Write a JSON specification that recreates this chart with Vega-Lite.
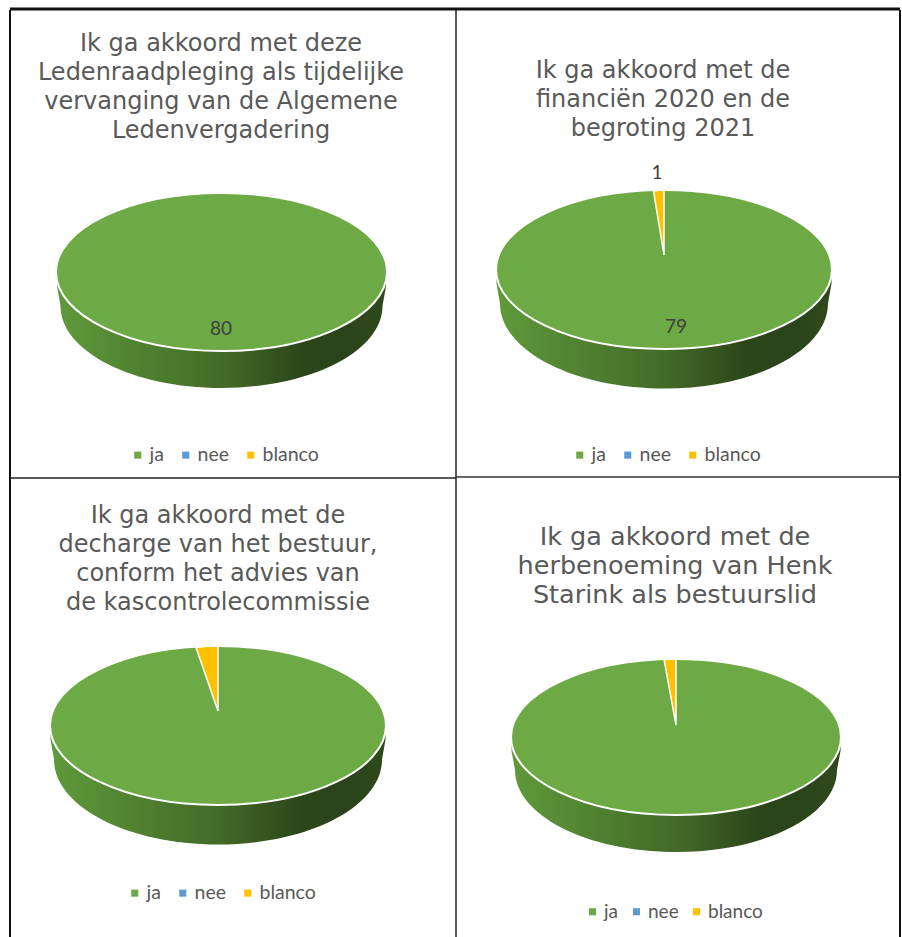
{"$schema":"https://vega.github.io/schema/vega-lite/v6.json","padding":{"left":8,"top":7,"right":0,"bottom":0},"background":"white","columns":2,"spacing":0,"bounds":"flush","resolve":{"scale":{"color":"independent"},"legend":{"color":"independent"}},"config":{"view":{"stroke":null},"title":{"font":"DejaVu Sans","fontSize":24,"fontWeight":"normal","color":"#595959","lineHeight":29,"anchor":"middle","baseline":"top"},"legend":{"orient":"none","direction":"horizontal","title":null,"symbolType":"square","symbolSize":50,"symbolStrokeWidth":0,"labelFont":"Lato","labelFontSize":19.5,"labelColor":"#595959","labelOffset":2,"columnPadding":12}},"concat":[
{"width":446,"height":468,"title":{"text":["Ik ga akkoord met deze","Ledenraadpleging als tijdelijke","vervanging van de Algemene","Ledenvergadering"],"dx":-12,"offset":-135},"data":{"values":[{"vraag":"Ledenraadpleging","antwoord":"ja","aantal":80},{"vraag":"Ledenraadpleging","antwoord":"nee","aantal":0},{"vraag":"Ledenraadpleging","antwoord":"blanco","aantal":0}]},"layer":[
{"transform":[{"filter":"datum.antwoord==='ja'"}],"mark":{"type":"rule","color":"#111","strokeWidth":2},"encoding":{"x":{"value":0},"y":{"value":0},"y2":{"value":468}}},
{"transform":[{"filter":"datum.antwoord==='ja'"}],"mark":{"type":"rule","color":"#111","strokeWidth":3},"encoding":{"y":{"value":-1},"x":{"value":0},"x2":{"value":446}}},
{"transform":[{"filter":"datum.antwoord==='ja'"}],"mark":{"type":"rule","color":"#222","strokeWidth":1.5},"encoding":{"y":{"value":468},"x":{"value":0},"x2":{"value":446}}},
{"transform":[{"filter":"datum.antwoord==='ja'"}],"mark":{"type":"point","filled":true,"opacity":1,"size":4,"xOffset":-11.5,"yOffset":28,"shape":"M-165,0 L-164.5,14 L-161,34 A161,82 0 0 0 161,34 L164.5,14 L165,0 Z","fill":{"gradient":"linear","x1":0,"x2":1,"y1":0,"y2":0,"stops":[{"offset":0,"color":"#5f9a3b"},{"offset":0.3,"color":"#4d7d2e"},{"offset":0.5,"color":"#436b28"},{"offset":0.75,"color":"#2c4519"},{"offset":0.88,"color":"#2b431a"},{"offset":1,"color":"#2f4a1c"}]}},"encoding":{}},
{"transform":[{"filter":"datum.antwoord==='ja'"}],"mark":{"type":"point","filled":true,"opacity":1,"size":4,"xOffset":-11.5,"yOffset":28,"shape":"M-165.5,0 A165.5,79 0 1 1 165.5,0 A165.5,79 0 1 1 -165.5,0 Z","stroke":"white","strokeWidth":2},"encoding":{"color":{"field":"antwoord","type":"nominal","scale":{"domain":["ja","nee","blanco"],"range":["#6DA945","#5B9BD5","#FFC000"]},"legend":{"symbolType":"square","legendX":118,"legendY":435}}}},
{"transform":[{"filter":"datum.antwoord==='ja'"}],"mark":{"type":"text","font":"Lato","fontSize":19,"color":"#404040","xOffset":-12,"yOffset":85},"encoding":{"text":{"field":"aantal","type":"quantitative"}}}
]},
{"width":444,"height":468,"title":{"text":["Ik ga akkoord met de","financiën 2020 en de","begroting 2021"],"dx":-15,"offset":-133},"data":{"values":[{"vraag":"Financiën","antwoord":"ja","aantal":79},{"vraag":"Financiën","antwoord":"nee","aantal":0},{"vraag":"Financiën","antwoord":"blanco","aantal":1}]},"layer":[
{"transform":[{"filter":"datum.antwoord==='ja'"}],"mark":{"type":"rule","color":"#222","strokeWidth":1.5},"encoding":{"x":{"value":0},"y":{"value":0},"y2":{"value":468}}},
{"transform":[{"filter":"datum.antwoord==='ja'"}],"mark":{"type":"rule","color":"#111","strokeWidth":3},"encoding":{"y":{"value":-1},"x":{"value":0},"x2":{"value":444}}},
{"transform":[{"filter":"datum.antwoord==='ja'"}],"mark":{"type":"rule","color":"#111","strokeWidth":2},"encoding":{"x":{"value":444},"y":{"value":0},"y2":{"value":468}}},
{"transform":[{"filter":"datum.antwoord==='ja'"}],"mark":{"type":"rule","color":"#333","strokeWidth":1.5},"encoding":{"y":{"value":467},"x":{"value":0},"x2":{"value":444}}},
{"transform":[{"filter":"datum.antwoord==='ja'"}],"mark":{"type":"point","filled":true,"opacity":1,"size":4,"xOffset":-14,"yOffset":25.5,"shape":"M-168,0 L-167.5,14 L-164,34 A164,85 0 0 0 164,34 L167.5,14 L168,0 Z","fill":{"gradient":"linear","x1":0,"x2":1,"y1":0,"y2":0,"stops":[{"offset":0,"color":"#5f9a3b"},{"offset":0.3,"color":"#4d7d2e"},{"offset":0.5,"color":"#436b28"},{"offset":0.75,"color":"#2c4519"},{"offset":0.88,"color":"#2b431a"},{"offset":1,"color":"#2f4a1c"}]}},"encoding":{}},
{"transform":[{"filter":"datum.antwoord==='ja'"}],"mark":{"type":"point","filled":true,"opacity":1,"size":4,"xOffset":-14,"yOffset":25.5,"shape":"M-168,0 A168,79.5 0 1 1 168,0 A168,79.5 0 1 1 -168,0 Z","stroke":"white","strokeWidth":2},"encoding":{"color":{"field":"antwoord","type":"nominal","scale":{"domain":["ja","nee","blanco"],"range":["#6DA945","#5B9BD5","#FFC000"]},"legend":{"symbolType":"square","legendX":114,"legendY":435}}}},
{"transform":[{"filter":"datum.antwoord==='blanco'"}],"mark":{"type":"point","filled":true,"opacity":1,"size":4,"xOffset":-14,"yOffset":25.5,"shape":"M0,-14.5 L-10.5,-78.5 Q-5,-79.5 0,-79.5 Z","stroke":"white","strokeWidth":1.5},"encoding":{"color":{"field":"antwoord","type":"nominal","scale":{"domain":["ja","nee","blanco"],"range":["#6DA945","#5B9BD5","#FFC000"]},"legend":{"symbolType":"square","legendX":114,"legendY":435}}}},
{"transform":[{"filter":"datum.antwoord==='ja'"}],"mark":{"type":"text","font":"Lato","fontSize":19,"color":"#404040","xOffset":-2,"yOffset":83},"encoding":{"text":{"field":"aantal","type":"quantitative"}}},
{"transform":[{"filter":"datum.antwoord==='blanco'"}],"mark":{"type":"text","font":"Lato","fontSize":19,"color":"#404040","xOffset":-21,"yOffset":-71},"encoding":{"text":{"field":"aantal","type":"quantitative"}}}
]},
{"width":446,"height":459,"title":{"text":["Ik ga akkoord met de","decharge van het bestuur,","conform het advies van","de kascontrolecommissie"],"dx":-15,"offset":-138},"data":{"values":[{"vraag":"Decharge","antwoord":"ja","aantal":78},{"vraag":"Decharge","antwoord":"nee","aantal":0},{"vraag":"Decharge","antwoord":"blanco","aantal":2}]},"layer":[
{"transform":[{"filter":"datum.antwoord==='ja'"}],"mark":{"type":"rule","color":"#111","strokeWidth":2},"encoding":{"x":{"value":0},"y":{"value":0},"y2":{"value":459}}},
{"transform":[{"filter":"datum.antwoord==='ja'"}],"mark":{"type":"point","filled":true,"opacity":1,"size":4,"xOffset":-15,"yOffset":18,"shape":"M-168,0 L-167.5,14 L-164,34 A164,85 0 0 0 164,34 L167.5,14 L168,0 Z","fill":{"gradient":"linear","x1":0,"x2":1,"y1":0,"y2":0,"stops":[{"offset":0,"color":"#5f9a3b"},{"offset":0.3,"color":"#4d7d2e"},{"offset":0.5,"color":"#436b28"},{"offset":0.75,"color":"#2c4519"},{"offset":0.88,"color":"#2b431a"},{"offset":1,"color":"#2f4a1c"}]}},"encoding":{}},
{"transform":[{"filter":"datum.antwoord==='ja'"}],"mark":{"type":"point","filled":true,"opacity":1,"size":4,"xOffset":-15,"yOffset":18,"shape":"M-168,0 A168,79.5 0 1 1 168,0 A168,79.5 0 1 1 -168,0 Z","stroke":"white","strokeWidth":2},"encoding":{"color":{"field":"antwoord","type":"nominal","scale":{"domain":["ja","nee","blanco"],"range":["#6DA945","#5B9BD5","#FFC000"]},"legend":{"symbolType":"square","legendX":115,"legendY":405}}}},
{"transform":[{"filter":"datum.antwoord==='blanco'"}],"mark":{"type":"point","filled":true,"opacity":1,"size":4,"xOffset":-15,"yOffset":18,"shape":"M0,-14.5 L-22,-78 Q-11,-79.5 0,-79.5 Z","stroke":"white","strokeWidth":1.5},"encoding":{"color":{"field":"antwoord","type":"nominal","scale":{"domain":["ja","nee","blanco"],"range":["#6DA945","#5B9BD5","#FFC000"]},"legend":{"symbolType":"square","legendX":115,"legendY":405}}}}
]},
{"width":444,"height":459,"title":{"text":["Ik ga akkoord met de","herbenoeming van Henk","Starink als bestuurslid"],"fontSize":25.5,"dx":-3,"offset":-131},"data":{"values":[{"vraag":"Herbenoeming","antwoord":"ja","aantal":79},{"vraag":"Herbenoeming","antwoord":"nee","aantal":0},{"vraag":"Herbenoeming","antwoord":"blanco","aantal":1}]},"layer":[
{"transform":[{"filter":"datum.antwoord==='ja'"}],"mark":{"type":"rule","color":"#222","strokeWidth":1.5},"encoding":{"x":{"value":0},"y":{"value":0},"y2":{"value":459}}},
{"transform":[{"filter":"datum.antwoord==='ja'"}],"mark":{"type":"rule","color":"#111","strokeWidth":2},"encoding":{"x":{"value":444},"y":{"value":0},"y2":{"value":459}}},
{"transform":[{"filter":"datum.antwoord==='ja'"}],"mark":{"type":"point","filled":true,"opacity":1,"size":4,"xOffset":-2,"yOffset":29.5,"shape":"M-165,0 L-164.5,14 L-161,33 A161,82 0 0 0 161,33 L164.5,14 L165,0 Z","fill":{"gradient":"linear","x1":0,"x2":1,"y1":0,"y2":0,"stops":[{"offset":0,"color":"#5f9a3b"},{"offset":0.3,"color":"#4d7d2e"},{"offset":0.5,"color":"#436b28"},{"offset":0.75,"color":"#2c4519"},{"offset":0.88,"color":"#2b431a"},{"offset":1,"color":"#2f4a1c"}]}},"encoding":{}},
{"transform":[{"filter":"datum.antwoord==='ja'"}],"mark":{"type":"point","filled":true,"opacity":1,"size":4,"xOffset":-2,"yOffset":29.5,"shape":"M-165,0 A165,78 0 1 1 165,0 A165,78 0 1 1 -165,0 Z","stroke":"white","strokeWidth":2},"encoding":{"color":{"field":"antwoord","type":"nominal","scale":{"domain":["ja","nee","blanco"],"range":["#6DA945","#5B9BD5","#FFC000"]},"legend":{"symbolType":"square","legendX":127,"legendY":424,"columnPadding":8,"labelFontSize":19}}}},
{"transform":[{"filter":"datum.antwoord==='blanco'"}],"mark":{"type":"point","filled":true,"opacity":1,"size":4,"xOffset":-2,"yOffset":29.5,"shape":"M0,-12 L-12,-77.5 Q-6,-78 0,-78 Z","stroke":"white","strokeWidth":1.5},"encoding":{"color":{"field":"antwoord","type":"nominal","scale":{"domain":["ja","nee","blanco"],"range":["#6DA945","#5B9BD5","#FFC000"]},"legend":{"symbolType":"square","legendX":127,"legendY":424,"columnPadding":8,"labelFontSize":19}}}}
]}
]}
